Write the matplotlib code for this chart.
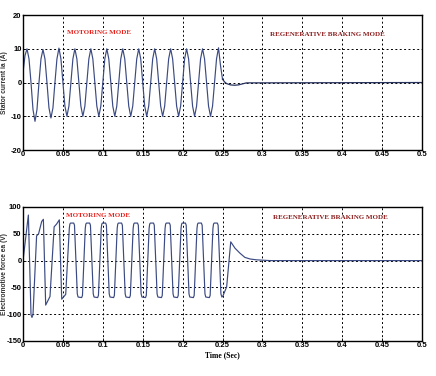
import numpy as np
import matplotlib
matplotlib.use('Agg')
import matplotlib.pyplot as plt

# stator current ia (A), sampled every 2.5 ms during motoring mode
ia_t = np.round(np.arange(0, 0.2501, 0.0025), 4)
ia_motor = [
    3, 8, 10, 7, 0, -8, -11.5, -8,
    0, 7, 9.8, 7, 0, -7.5, -10.5, -7.5,
    0, 7, 10.2, 7, 0, -7, -10, -7,
    0, 7, 10, 7, 0, -7, -10, -7,
    0, 7, 10, 7, 0, -7, -10, -7,
    0, 7, 10, 7, 0, -7, -10, -7,
    0, 7, 10, 7, 0, -7, -10, -7,
    0, 7, 10, 7, 0, -7, -10, -7,
    0, 7, 10, 7, 0, -7, -10, -7,
    0, 7, 10, 7, 0, -7, -10, -7,
    0, 7, 10, 7, 0, -7, -10, -7,
    0, 7, 10, 7, 0, -7, -10, -7,
    0, 7, 10.3, 5, 1,
]
# regenerative braking tail
ia_tail_t = [0.2525, 0.255, 0.26, 0.265, 0.27, 0.275, 0.28, 0.5]
ia_tail = [0.2, -0.3, -0.7, -0.8, -0.7, -0.4, -0.1, 0]

# electromotive force ea (V)
ea_t = [
    0, 0.0067, 0.0100, 0.0112, 0.0125, 0.017, 0.0195, 0.0234, 0.0255,
    0.0284, 0.0338, 0.039, 0.042, 0.0455, 0.0485, 0.0535,
    0.058, 0.0587, 0.0595, 0.0635, 0.0645, 0.068, 0.069, 0.0735, 0.0745,
    0.078, 0.0787, 0.0795, 0.0835, 0.0845, 0.088, 0.089, 0.0935, 0.0945,
    0.098, 0.0987, 0.0995, 0.1035, 0.1045, 0.108, 0.109, 0.1135, 0.1145,
    0.118, 0.1187, 0.1195, 0.1235, 0.1245, 0.128, 0.129, 0.1335, 0.1345,
    0.138, 0.1387, 0.1395, 0.1435, 0.1445, 0.148, 0.149, 0.1535, 0.1545,
    0.158, 0.1587, 0.1595, 0.1635, 0.1645, 0.168, 0.169, 0.1735, 0.1745,
    0.178, 0.1787, 0.1795, 0.1835, 0.1845, 0.188, 0.189, 0.1935, 0.1945,
    0.198, 0.1987, 0.1995, 0.2035, 0.2045, 0.208, 0.209, 0.2135, 0.2145,
    0.218, 0.2187, 0.2195, 0.2235, 0.2245, 0.228, 0.229, 0.2335, 0.2345,
    0.238, 0.2387, 0.2395, 0.2435, 0.2445,
    0.248, 0.2492, 0.2505, 0.2552, 0.2603, 0.2657, 0.272, 0.278, 0.2845,
    0.292, 0.303, 0.31, 0.5,
]
ea_v = [
    0, 85, -101, -106, -101, 46, 50, 73, 77,
    -83, -67, 63, 68, 76, -72, -63,
    60, 68, 70, 70, 66, -62, -68, -69, -65,
    60, 68, 70, 70, 66, -62, -68, -69, -65,
    60, 68, 70, 70, 66, -62, -68, -69, -65,
    60, 68, 70, 70, 66, -62, -68, -69, -65,
    60, 68, 70, 70, 66, -62, -68, -69, -65,
    60, 68, 70, 70, 66, -62, -68, -69, -65,
    60, 68, 70, 70, 66, -62, -68, -69, -65,
    60, 68, 70, 70, 66, -62, -68, -69, -65,
    60, 68, 70, 70, 66, -62, -68, -69, -65,
    60, 68, 70, 70, 66,
    -62, -68, -66, -49, 35, 23, 13.6, 6, 3,
    1.5, 0.5, 0, 0,
]

x_ticks = [0, 0.05, 0.1, 0.15, 0.2, 0.25, 0.3, 0.35, 0.4, 0.45, 0.5]
x_tick_labels = ['0', '0.05', '0.1', '0.15', '0.2', '0.25', '0.3', '0.35', '0.4', '0.45', '0.5']
ia_ticks = [-20, -10, 0, 10, 20]
ea_ticks = [-150, -100, -50, 0, 50, 100]

line_color = '#3b4a82'
tick_font = {'family': ['Liberation Sans', 'DejaVu Sans'], 'size': 5.5, 'weight': 'bold'}
label_font = {'family': ['Liberation Sans', 'DejaVu Sans'], 'size': 4.8, 'weight': 'bold', 'color': '#333333'}
mode_font = {'family': ['Liberation Serif', 'DejaVu Serif'], 'size': 5, 'weight': 'bold'}

fig = plt.figure(figsize=(4.36, 3.76), dpi=100)
ax1 = fig.add_axes([0.0528, 0.601, 0.9151, 0.359])
ax2 = fig.add_axes([0.0528, 0.0931, 0.9151, 0.3564])


def style_axes(ax, yticks):
    ax.set_xlim(0, 0.5)
    ax.set_ylim(yticks[0], yticks[-1])
    ax.set_xticks(x_ticks)
    ax.set_xticklabels(x_tick_labels, **tick_font)
    ax.set_yticks(yticks)
    ax.set_yticklabels([str(v) for v in yticks], **tick_font)
    ax.tick_params(direction='in', length=2, width=0.6, pad=1.0)
    ax.grid(True, color='k', linestyle=(0, (2, 2.5)), linewidth=0.7)
    for s in ax.spines.values():
        s.set_linewidth(1.0)
        s.set_color('k')


ax1.plot(ia_t, ia_motor, color=line_color, lw=0.85)
ax1.plot([0.25] + ia_tail_t, [ia_motor[-1]] + ia_tail, color='#27325e', lw=0.9)
style_axes(ax1, ia_ticks)
ax1.set_ylabel('Stator current ia (A)', **label_font)
ax1.yaxis.set_label_coords(-0.038, 0.5)

ax2.plot(ea_t, ea_v, color=line_color, lw=0.85)
style_axes(ax2, ea_ticks)
ax2.set_ylabel('Electromotive force ea (V)', **label_font)
ax2.yaxis.set_label_coords(-0.038, 0.5)
ax2.set_xlabel('Time (Sec)', family=['Liberation Serif', 'DejaVu Serif'], fontsize=5.5,
               fontweight='bold', labelpad=1)

box = dict(facecolor='white', edgecolor='none', pad=0.5)
ax1.text(0.095, 14.7, 'MOTORING MODE', color='#e8231e', ha='center', va='center', bbox=box, **mode_font)
ax1.text(0.381, 14.1, 'REGENERATIVE BRAKING MODE', color='#8b1c1c', ha='center', va='center', bbox=box, **mode_font)
ax2.text(0.0934, 85, 'MOTORING MODE', color='#e8231e', ha='center', va='center', bbox=box, **mode_font)
ax2.text(0.385, 79.5, 'REGENERATIVE BRAKING MODE', color='#8b1c1c', ha='center', va='center', bbox=box, **mode_font)

fig.savefig('out.png', dpi=100)
